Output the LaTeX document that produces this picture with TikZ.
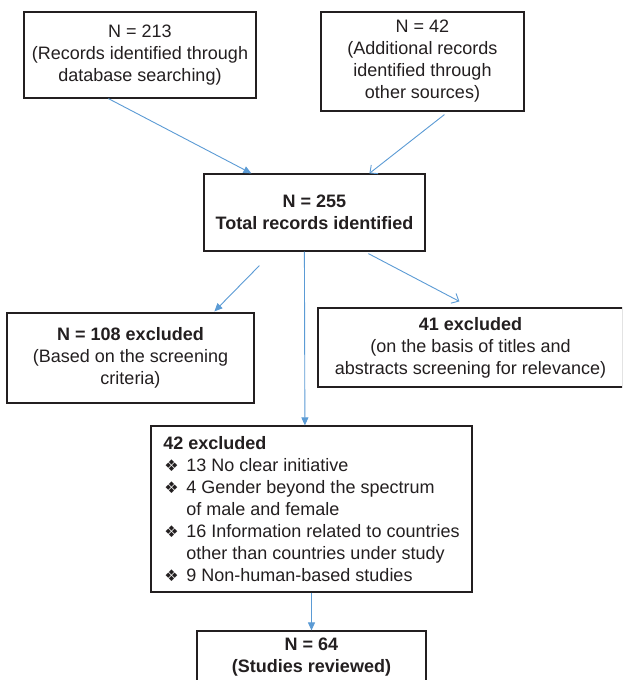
\documentclass[tikz,border=0pt]{standalone}
\usepackage{fontspec}
\setmainfont{Liberation Sans}
\newfontfamily\dejavu{DejaVu Sans}
\usetikzlibrary{arrows.meta}
\definecolor{arrowblue}{RGB}{91,155,213}
\definecolor{boxline}{RGB}{35,31,32}
\definecolor{textdark}{RGB}{35,31,32}
\newcommand\bulmark{\makebox[23pt][l]{\hspace{1pt}{\dejavu\fontsize{16}{16}\selectfont ❖}}}
\begin{document}
\begin{tikzpicture}[x=1pt,y=-1pt,
  box/.style={draw=boxline, line width=1.2pt, inner sep=0pt, align=center,
    font=\fontsize{18}{22}\selectfont, text=textdark},
  fillarrow/.style={draw=arrowblue, line width=0.9pt, -{Triangle[length=8pt,width=7pt]}},
  openarrow/.style={draw=arrowblue, line width=0.9pt, -{Straight Barb[length=6pt,width=11pt]}}]
\useasboundingbox (0,0) rectangle (622,680);
\clip (0,0) rectangle (622,680);
\fill[white] (0,0) rectangle (622,680);

\node[box, minimum width=232pt, minimum height=86pt] (b1) at (140,55)
  {N = 213\\(Records identified through\\database searching)};
\node[box, minimum width=203pt, minimum height=99pt] (b2) at (422.5,61.5)
  {N = 42\\(Additional records\\identified through\\other sources)};
\node[box, minimum width=221pt, minimum height=77pt] (b3) at (314.5,212.5)
  {\textbf{N = 255}\\\textbf{Total records identified}};
\node[box, minimum width=247pt, minimum height=90pt] (b4) at (130.5,358)
  {\textbf{N = 108 excluded}\\(Based on the screening\\criteria)};
\node[box, minimum width=305pt, minimum height=79pt] (b5) at (470.5,347.5)
  {\textbf{41 excluded}\\(on the basis of titles and\\abstracts screening for relevance)};
\node[box, minimum width=321pt, minimum height=166pt, align=left] (b6) at (311.5,509)
  {\textbf{42 excluded}\\
   \bulmark 13 No clear initiative\\
   \bulmark 4 Gender beyond the spectrum\\
   \hspace*{23pt}of male and female\\
   \bulmark 16 Information related to countries\\
   \hspace*{23pt}other than countries under study\\
   \bulmark 9 Non-human-based studies};
\node[box, minimum width=229pt, minimum height=53pt] (b7) at (311.5,657.5)
  {\textbf{N = 64}\\\textbf{(Studies reviewed)}};

\path (b1.south west) ++(85,0) coordinate (s1);
\path (b3.north west) ++(48,0) coordinate (t1);
\path (b2.south west) ++(124,3) coordinate (s2);
\path (b3.north west) ++(166,0) coordinate (t2);
\path (b3.south west) ++(56,14) coordinate (s3);
\path (b4.north west) ++(208,-1) coordinate (t3);
\path (b3.south west) ++(165,2) coordinate (s4);
\path (b5.north west) ++(142,-6) coordinate (t4);
\path (b3.south west) ++(101,0) coordinate (s5);
\path (b6.north west) ++(154.5,0) coordinate (t5);

\draw[fillarrow] (s1) -- (t1);
\draw[openarrow] (s2) -- (t2);
\draw[fillarrow] (s3) -- (t3);
\draw[openarrow] (s4) -- (t4);
\draw[fillarrow] (s5) -- (t5);
\draw[fillarrow] (b6.south) -- (b7.north);
\end{tikzpicture}
\end{document}
